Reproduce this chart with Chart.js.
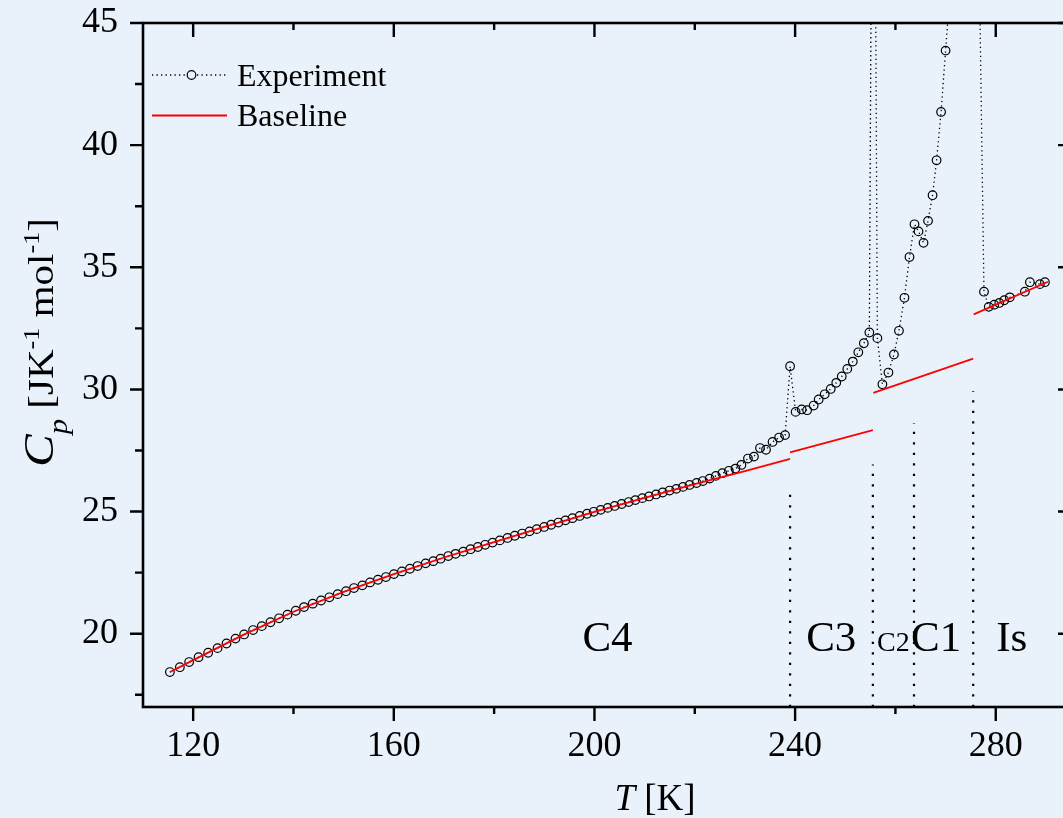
<!DOCTYPE html>
<html><head><meta charset="utf-8">
<script src="https://cdn.jsdelivr.net/npm/chart.js@4.4.1/dist/chart.umd.min.js"></script>
<style>
html,body{margin:0;padding:0;background:#e9f1fa;overflow:hidden;width:1063px;height:818px;}
canvas{display:block;}
</style></head><body>
<canvas id="c" width="1080" height="818"></canvas>
<script>
// ---------------- data ----------------
const expT = [
 115.36,117.35,119.20,121.08,122.99,124.86,126.65,128.44,130.16,131.95,
 133.68,135.41,137.13,138.80,140.45,142.10,143.84,145.49,147.16,148.81,
 150.47,152.06,153.73,155.25,156.84,158.43,160.02,161.62,163.21,164.74,
 166.34,167.87,169.32,170.86,172.31,173.84,175.30,176.75,178.22,179.68,
 181.13,182.67,184.12,185.59,187.06,188.50,189.97,191.37,192.82,194.22,
 195.61,197.06,198.53,199.85,201.24,202.64,204.03,205.42,206.82,208.15,
 209.55,210.88,212.28,213.59,214.98,216.32,217.65,218.96,220.36,221.60,
 222.96,224.20,225.50,226.80,228.10,229.30,230.60,231.80,233.00,234.20,
 235.50,236.80,238.00,239.00,240.10,241.30,242.40,243.70,244.70,245.90,
 247.10,248.20,249.30,250.40,251.50,252.60,253.70,254.80,255.60,256.40,
 257.40,258.60,259.70,260.70,261.80,262.80,263.80,264.60,265.60,266.50,
 267.40,268.20,269.10,270.00,270.90,273.50,276.70,277.65,278.60,279.70,
 280.70,281.70,282.80,285.80,286.80,288.80,289.80
];
const expCp = [
 18.43,18.63,18.84,19.04,19.22,19.41,19.60,19.80,19.97,20.15,
 20.31,20.47,20.63,20.78,20.94,21.09,21.23,21.36,21.49,21.62,
 21.74,21.87,21.98,22.10,22.21,22.32,22.44,22.55,22.66,22.77,
 22.88,22.97,23.07,23.18,23.27,23.36,23.46,23.55,23.64,23.73,
 23.82,23.92,24.01,24.10,24.19,24.28,24.37,24.46,24.55,24.64,
 24.73,24.82,24.91,24.99,25.07,25.15,25.23,25.31,25.39,25.47,
 25.55,25.62,25.70,25.78,25.86,25.93,26.01,26.09,26.17,26.25,
 26.35,26.46,26.57,26.67,26.76,26.91,27.17,27.25,27.60,27.53,
 27.85,28.03,28.13,30.95,29.08,29.18,29.15,29.34,29.59,29.80,
 30.02,30.27,30.53,30.84,31.14,31.52,31.89,32.33,64.40,32.10,
 30.21,30.69,31.43,32.40,33.75,35.42,36.76,36.47,36.00,36.90,
 37.95,39.38,41.36,43.87,46.40,80.00,47.50,34.00,33.38,33.47,
 33.54,33.65,33.77,34.00,34.39,34.31,34.39
];
// baseline segments (null = break between segments)
const baseT  = [115.4,120,130,140,150,160,170,180,190,200,210,220,230,239.0, 239.0, 239.0,255.5, 255.5, 255.6,275.5, 275.5, 275.6,290.4];
const baseCp = [18.43,18.92,19.95,20.90,21.71,22.44,23.12,23.75,24.37,24.99,25.56,26.12,26.66,27.16, null, 27.42,28.33, null, 29.86,31.26, null, 33.07,34.41];
// phase boundaries (vertical dotted lines) and phase names
const phaseT   = [239.0, 255.5, 263.7, 275.5];
const phaseTop = [25.70, 26.93, 28.63, 29.93];
const phaseNames  = ['C4','C3','C2','C1','Is'];
const phaseLabelT = [202.6, 247.2, 259.6, 268.1, 283.2];
const phaseLabelCp = 19.29;
const xTickLabels = [120,160,200,240,280];
const yTickLabels = [20,25,30,35,40,45];
const seriesNames = ['Experiment','Baseline'];

// ---------------- styles ----------------
const FONT = "'Liberation Serif','Times New Roman',serif";
const phaseLabelSize = [43,43,28,43,43];

const expData  = expT.map((t,i)=>({x:t,y:expCp[i]}));
const baseData = baseT.map((t,i)=>({x:t,y:baseCp[i]}));

const datasets = [
  {label:seriesNames[0], data:expData, showLine:true, borderColor:'#000', borderWidth:1.3,
   borderDash:[1.3,3.2], pointRadius:4.3, pointBorderWidth:1.2, pointBorderColor:'#000',
   pointBackgroundColor:'rgba(0,0,0,0)', tension:0, order:2},
  {label:seriesNames[1], data:baseData, showLine:true, borderColor:'#ff0000', borderWidth:1.8,
   pointRadius:0, spanGaps:false, tension:0, order:1}
].concat(phaseT.map((t,i)=>({label:'boundary'+i, data:[{x:t,y:17},{x:t,y:phaseTop[i]}],
   showLine:true, borderColor:'#000', borderWidth:2.2, borderDash:[2.2,8.3], pointRadius:0, order:3})));

const axesPlugin = {
  id:'axesFrame',
  afterDatasetsDraw(chart){
    const {ctx, chartArea:a, scales:{x,y}} = chart;
    ctx.save();
    ctx.strokeStyle='#000'; ctx.lineWidth=2.6;
    ctx.strokeRect(a.left, a.top, a.right-a.left, a.bottom-a.top);
    ctx.lineWidth=2.4;
    x.ticks.forEach(t=>{
      const px=x.getPixelForValue(t.value);
      const L = xTickLabels.includes(t.value)?14:7;
      ctx.beginPath();
      ctx.moveTo(px,a.bottom); ctx.lineTo(px,a.bottom+L);
      ctx.moveTo(px,a.top); ctx.lineTo(px,a.top+L);
      ctx.stroke();
    });
    y.ticks.forEach(t=>{
      const py=y.getPixelForValue(t.value);
      const L = yTickLabels.includes(t.value)?13:8;
      ctx.beginPath();
      ctx.moveTo(a.left,py); ctx.lineTo(a.left-L,py);
      ctx.moveTo(a.right,py); ctx.lineTo(a.right-L,py);
      ctx.stroke();
    });
    ctx.restore();
  }
};

const textPlugin = {
  id:'texts',
  afterDraw(chart){
    const {ctx, chartArea:a, scales:{x,y}} = chart;
    ctx.save();
    ctx.fillStyle='#000';
    // phase names
    ctx.textAlign='center'; ctx.textBaseline='alphabetic';
    phaseNames.forEach((n,i)=>{
      ctx.font = phaseLabelSize[i]+'px '+FONT;
      ctx.fillText(n, x.getPixelForValue(phaseLabelT[i]), y.getPixelForValue(phaseLabelCp));
    });
    // x title: T [K]
    ctx.textAlign='left';
    ctx.font='italic 37px '+FONT; const wT=ctx.measureText('T').width;
    ctx.font='37px '+FONT; const wK=ctx.measureText(' [K]').width;
    let sx = 655-(wT+wK)/2;
    ctx.font='italic 37px '+FONT; ctx.fillText('T',sx,810);
    ctx.font='37px '+FONT; ctx.fillText(' [K]',sx+wT,810);
    // y title: C_p [JK^-1 mol^-1]
    const segs=[
      {t:'C',f:'italic 43px '+FONT,dy:0},
      {t:'p',f:'italic 27px '+FONT,dy:14},
      {t:' [JK',f:'36px '+FONT,dy:0},
      {t:'-1',f:'23px '+FONT,dy:-14},
      {t:' mol',f:'36px '+FONT,dy:0},
      {t:'-1',f:'23px '+FONT,dy:-14},
      {t:']',f:'36px '+FONT,dy:0}
    ];
    let tot=0; segs.forEach(s=>{ctx.font=s.f; s.w=ctx.measureText(s.t).width; tot+=s.w;});
    const st = Math.min(1.2, Math.max(1, 249/tot));
    ctx.save();
    ctx.translate(53,467); ctx.rotate(-Math.PI/2); ctx.scale(st,1);
    let cx=0; segs.forEach(s=>{ctx.font=s.f; ctx.fillText(s.t,cx,s.dy); cx+=s.w;});
    ctx.restore();
    // legend
    const lx0=152, lx1=227, rows=[75,115.5];
    const d0=chart.data.datasets[0], d1=chart.data.datasets[1];
    ctx.strokeStyle=d0.borderColor; ctx.lineWidth=d0.borderWidth; ctx.setLineDash(d0.borderDash);
    ctx.beginPath(); ctx.moveTo(lx0,rows[0]); ctx.lineTo(lx1,rows[0]); ctx.stroke();
    ctx.setLineDash([]);
    ctx.fillStyle='#e9f1fa';
    ctx.lineWidth=d0.pointBorderWidth;
    ctx.beginPath(); ctx.arc((lx0+lx1)/2+2,rows[0],d0.pointRadius,0,Math.PI*2); ctx.fill(); ctx.stroke();
    ctx.strokeStyle=d1.borderColor; ctx.lineWidth=d1.borderWidth;
    ctx.beginPath(); ctx.moveTo(lx0,rows[1]); ctx.lineTo(lx1,rows[1]); ctx.stroke();
    ctx.fillStyle='#000'; ctx.font='32px '+FONT; ctx.textAlign='left'; ctx.textBaseline='alphabetic';
    ctx.fillText(d0.label, 237, rows[0]+10.6);
    ctx.fillText(d1.label, 237, rows[1]+10.6);
    ctx.restore();
  }
};

new Chart(document.getElementById('c'), {
  type:'scatter',
  data:{datasets},
  options:{
    responsive:false, animation:false, devicePixelRatio:1,
    layout:{padding:{left:0,top:23,right:9,bottom:0}},
    plugins:{legend:{display:false}, tooltip:{enabled:false}},
    scales:{
      x:{type:'linear', position:'bottom', min:110, max:295,
         grid:{display:false, drawTicks:false}, border:{display:false},
         ticks:{stepSize:20, includeBounds:false, autoSkip:false, maxRotation:0, minRotation:0,
                color:'#000', font:{family:FONT,size:36}, padding:18,
                callback:v=>xTickLabels.includes(v)?String(v):''},
         afterFit:s=>{s.height=111; s.paddingLeft=0; s.paddingRight=0;}},
      y:{type:'linear', position:'left', min:17, max:45,
         grid:{display:false, drawTicks:false}, border:{display:false},
         ticks:{stepSize:2.5, includeBounds:false, autoSkip:false,
                color:'#000', font:{family:FONT,size:36}, padding:25,
                callback:v=>yTickLabels.includes(v)?String(v):''},
         afterFit:s=>{s.width=143; s.paddingTop=0; s.paddingBottom=0;}}
    }
  },
  plugins:[axesPlugin,textPlugin]
});
</script>
</body></html>
